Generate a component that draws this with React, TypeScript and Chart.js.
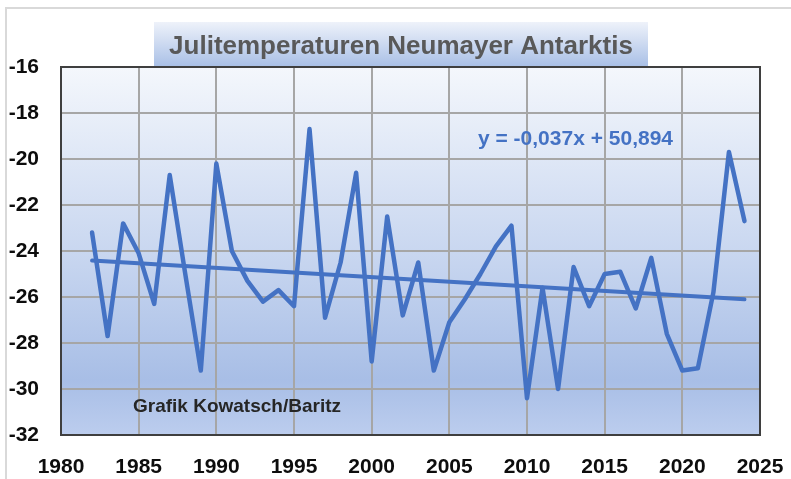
import React, { useEffect, useRef } from "react";
import { Chart, registerables } from "chart.js";

Chart.register(...registerables);

// ---- data ----
const years = [
  1982, 1983, 1984, 1985, 1986, 1987, 1988, 1989, 1990, 1991,
  1992, 1993, 1994, 1995, 1996, 1997, 1998, 1999, 2000, 2001,
  2002, 2003, 2004, 2005, 2006, 2007, 2008, 2009, 2010, 2011,
  2012, 2013, 2014, 2015, 2016, 2017, 2018, 2019, 2020, 2021,
  2022, 2023, 2024,
];
const julyTemps = [
  -23.2, -27.7, -22.8, -24.1, -26.3, -20.7, -25.0, -29.2, -20.2, -24.0,
  -25.3, -26.2, -25.7, -26.4, -18.7, -26.9, -24.5, -20.6, -28.8, -22.5,
  -26.8, -24.5, -29.2, -27.1, -26.1, -25.0, -23.8, -22.9, -30.4, -25.6,
  -30.0, -24.7, -26.4, -25.0, -24.9, -26.5, -24.3, -27.6, -29.2, -29.1,
  -25.8, -19.7, -22.7,
];
const xRange = [1980, 2025];
const xStep = 5;
const yRange = [-32, -16];
const yStep = 2;
const titleText = "Julitemperaturen Neumayer Antarktis";
const equationText = "y = -0,037x + 50,894";
const creditText = "Grafik Kowatsch/Baritz";

// least-squares trend line of the series (Excel linear trendline)
function linReg(xs: number[], ys: number[]) {
  const n = xs.length;
  const mx = xs.reduce((a, b) => a + b, 0) / n;
  const my = ys.reduce((a, b) => a + b, 0) / n;
  let sxy = 0;
  let sxx = 0;
  for (let i = 0; i < n; i++) {
    sxy += (xs[i] - mx) * (ys[i] - my);
    sxx += (xs[i] - mx) * (xs[i] - mx);
  }
  const slope = sxy / sxx;
  return { slope, intercept: my - slope * mx };
}

const FONT = "'Liberation Sans', Arial, sans-serif";
const BLUE = "#4472C4";

const decorPlugin = {
  id: "decor",
  beforeDraw(chart: any) {
    const { ctx, chartArea: a, width, height } = chart;
    ctx.save();
    ctx.fillStyle = "#ffffff";
    ctx.fillRect(0, 0, width, height);
    // outer chart frame (top + left)
    ctx.strokeStyle = "#d9d9d9";
    ctx.lineWidth = 2;
    ctx.beginPath();
    ctx.moveTo(6, height);
    ctx.lineTo(6, 8);
    ctx.lineTo(width, 8);
    ctx.stroke();
    // plot area gradient
    const g = ctx.createLinearGradient(0, a.top, 0, a.bottom);
    g.addColorStop(0, "#f4f7fc");
    g.addColorStop(0.5, "#c9d7f0");
    g.addColorStop(0.85, "#a8bee6");
    g.addColorStop(1, "#bccdee");
    ctx.fillStyle = g;
    ctx.fillRect(a.left, a.top, a.right - a.left, a.bottom - a.top);
    // title box
    const bx = 154, by = 22, bw = 494, bh = a.top - 22;
    const tg = ctx.createLinearGradient(0, by, 0, by + bh);
    tg.addColorStop(0, "#eef2fa");
    tg.addColorStop(1, "#a8bfe6");
    ctx.fillStyle = tg;
    ctx.fillRect(bx, by, bw, bh);
    ctx.fillStyle = "#595959";
    ctx.font = `bold 26px ${FONT}`;
    ctx.textAlign = "center";
    ctx.textBaseline = "alphabetic";
    ctx.fillText(titleText, bx + bw / 2, 54);
    ctx.restore();
  },
  afterDraw(chart: any) {
    const { ctx, chartArea: a } = chart;
    ctx.save();
    ctx.strokeStyle = "#3f3f3f";
    ctx.lineWidth = 2;
    ctx.strokeRect(a.left, a.top, a.right - a.left, a.bottom - a.top);
    ctx.textAlign = "left";
    ctx.textBaseline = "alphabetic";
    ctx.fillStyle = BLUE;
    ctx.font = `bold 21px ${FONT}`;
    ctx.fillText(equationText, 478, 145);
    ctx.fillStyle = "#262626";
    ctx.font = `bold 19px ${FONT}`;
    ctx.fillText(creditText, 133, 412);
    ctx.restore();
  },
};

export default function App() {
  const ref = useRef<HTMLCanvasElement | null>(null);

  useEffect(() => {
    if (!ref.current) return;
    const { slope, intercept } = linReg(years, julyTemps);
    const x0 = years[0];
    const x1 = years[years.length - 1];
    const tickFont = { family: FONT, size: 21, weight: "bold" as const };
    const chart = new Chart(ref.current, {
      type: "line",
      data: {
        datasets: [
          {
            label: "Juli",
            data: years.map((y, i) => ({ x: y, y: julyTemps[i] })),
            borderColor: BLUE,
            borderWidth: 4.5,
            pointRadius: 0,
            tension: 0,
            borderJoinStyle: "round",
            borderCapStyle: "round",
            fill: false,
          },
          {
            label: "Trend",
            data: [
              { x: x0, y: slope * x0 + intercept },
              { x: x1, y: slope * x1 + intercept },
            ],
            borderColor: BLUE,
            borderWidth: 4,
            pointRadius: 0,
            borderCapStyle: "round",
            fill: false,
          },
        ],
      },
      options: {
        responsive: false,
        animation: false,
        layout: { padding: { top: 67, right: 31, left: 0, bottom: 0 } },
        plugins: {
          legend: { display: false },
          tooltip: { enabled: false },
          title: { display: false },
        },
        scales: {
          x: {
            type: "linear",
            min: xRange[0],
            max: xRange[1],
            ticks: {
              stepSize: xStep,
              callback: (v: any) => String(v),
              font: tickFont,
              color: "#0d0d0d",
              padding: 20,
              maxRotation: 0,
              autoSkip: false,
            },
            grid: { color: "#a6a6a6", lineWidth: 2, drawTicks: false },
            border: { display: false },
            afterFit: (s: any) => {
              s.height = 44;
              s.paddingLeft = 0;
              s.paddingRight = 0;
            },
          },
          y: {
            min: yRange[0],
            max: yRange[1],
            ticks: {
              stepSize: yStep,
              font: tickFont,
              color: "#0d0d0d",
              padding: 22,
            },
            grid: { color: "#a6a6a6", lineWidth: 2, drawTicks: false },
            border: { display: false },
            afterFit: (s: any) => {
              s.width = 61;
              s.paddingTop = 0;
              s.paddingBottom = 0;
            },
          },
        },
      },
      plugins: [decorPlugin],
    });
    return () => chart.destroy();
  }, []);

  return (
    <div
      style={{
        position: "fixed",
        left: 0,
        top: 0,
        width: 791,
        height: 479,
        background: "#fff",
      }}
    >
      <canvas ref={ref} width={791} height={479} />
    </div>
  );
}
